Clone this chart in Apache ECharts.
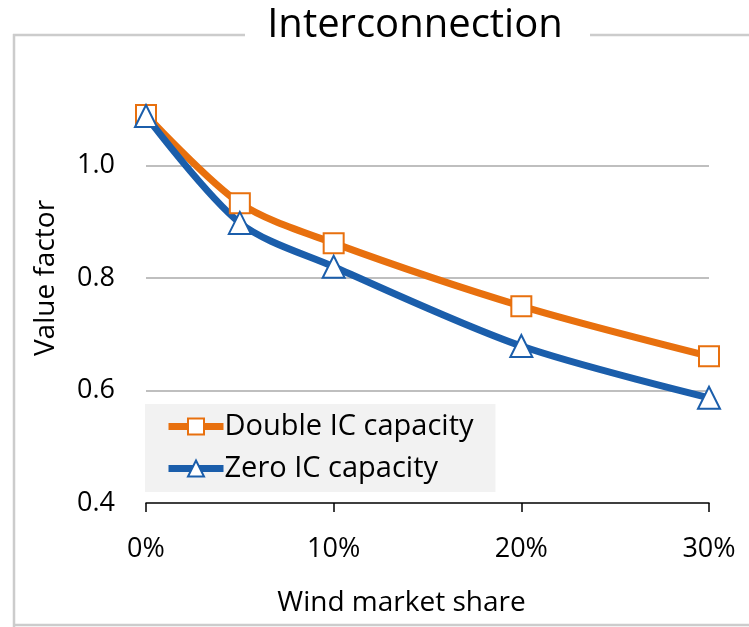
<!DOCTYPE html>
<html><head><meta charset="utf-8">
<script src="https://cdn.jsdelivr.net/npm/echarts@6/dist/echarts.min.js"></script>
<style>html,body{margin:0;padding:0;background:#fff}#c{width:749px;height:627px}</style>
</head><body><div id="c"></div>
<script>
const xShares = [0, 5, 10, 20, 30];
const doubleIC = [1.090, 0.933, 0.862, 0.750, 0.661];
const zeroIC = [1.088, 0.898, 0.820, 0.679, 0.587];
const xTicks = [0, 10, 20, 30];
const yTicks = [0.4, 0.6, 0.8, 1.0];
const FONT = 'Open Sans';
const chart = echarts.init(document.getElementById('c'));
chart.setOption({
  animation: false,
  textStyle: {fontFamily: FONT},
  graphic: [
    {type: 'line', shape: {x1: 13, y1: 35, x2: 245, y2: 35}, style: {stroke: '#cccccc', lineWidth: 2.5}},
    {type: 'line', shape: {x1: 590, y1: 35, x2: 749, y2: 35}, style: {stroke: '#cccccc', lineWidth: 2.5}},
    {type: 'line', shape: {x1: 14, y1: 34, x2: 14, y2: 627}, style: {stroke: '#cccccc', lineWidth: 2.5}},
    {type: 'line', shape: {x1: 13, y1: 625, x2: 749, y2: 625}, style: {stroke: '#cccccc', lineWidth: 2.5}},
    {type: 'text', x: 415, y: 26, style: {text: 'Interconnection', font: '40px "Open Sans"', fill: '#000', align: 'center', verticalAlign: 'middle'}}
  ],
  grid: {left: 146, right: 40, top: 53, bottom: 124},
  legend: {
    left: 145, top: 404, orient: 'vertical',
    backgroundColor: '#f2f2f2',
    padding: [8, 22, 9, 20],
    itemWidth: 55, itemHeight: 20, itemGap: 13,
    lineStyle: {width: 7},
    textStyle: {fontSize: 29, color: '#000', fontFamily: FONT, padding: [0, 0, 0, -4]},
    data: ['Double IC capacity', 'Zero IC capacity']
  },
  xAxis: {
    type: 'value', min: 0, max: 30, interval: 10,
    name: 'Wind market share', nameLocation: 'middle', nameGap: 86,
    nameTextStyle: {fontSize: 28, color: '#000', padding: [0, 52, 0, 0]},
    axisLine: {lineStyle: {color: '#000', width: 1.5}},
    axisTick: {show: true, length: 9, lineStyle: {color: '#000', width: 1.5}},
    axisLabel: {formatter: '{value}%', fontSize: 27, color: '#000', margin: 33},
    splitLine: {show: false}
  },
  yAxis: {
    type: 'value', min: 0.4, max: 1.2, interval: 0.2,
    name: 'Value factor', nameLocation: 'middle', nameGap: 86,
    nameTextStyle: {fontSize: 28, color: '#000'},
    axisLine: {show: false}, axisTick: {show: false},
    axisLabel: {fontSize: 27, color: '#000', margin: 31, showMaxLabel: false,
      formatter: v => yTicks.some(t => Math.abs(t - v) < 1e-6) ? v.toFixed(1) : ''},
    splitLine: {show: true, lineStyle: {color: ['transparent', '#bfbfbf', '#bfbfbf', '#bfbfbf', 'transparent'], width: 2}}
  },
  series: [
    {name: 'Double IC capacity', type: 'line', smooth: 0.3,
      data: xShares.map((x, i) => [x, doubleIC[i]]),
      lineStyle: {color: '#e8700e', width: 7},
      itemStyle: {color: '#fff', borderColor: '#e8700e', borderWidth: 2},
      color: '#e8700e',
      symbol: 'rect', symbolSize: 20},
    {name: 'Zero IC capacity', type: 'line', smooth: 0.3,
      data: xShares.map((x, i) => [x, zeroIC[i]]),
      lineStyle: {color: '#1b5eab', width: 7},
      itemStyle: {color: '#fff', borderColor: '#1b5eab', borderWidth: 2},
      color: '#1b5eab',
      symbol: 'triangle', symbolSize: 22}
  ]
});
</script></body></html>
